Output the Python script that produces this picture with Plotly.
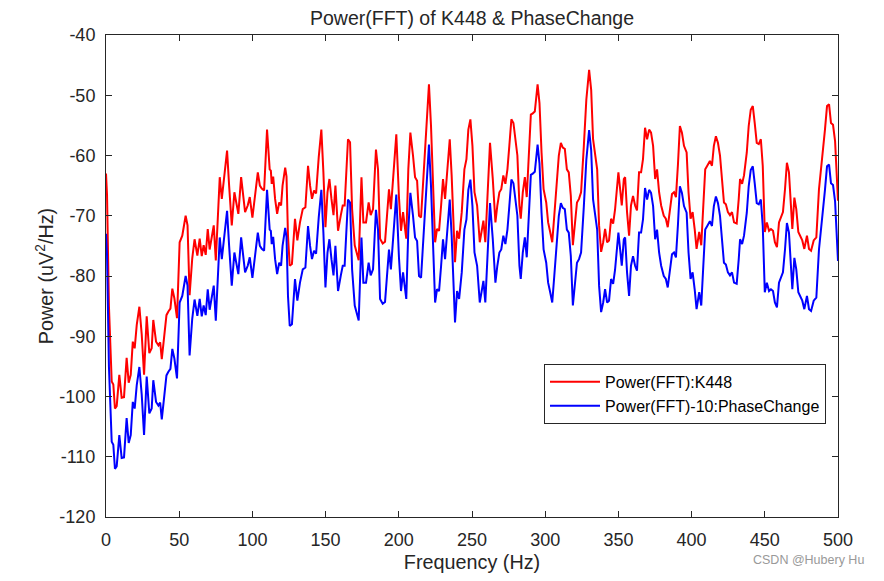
import plotly.graph_objects as go

freq_hz = [0, 0.7, 2.0, 3.0, 3.9, 5.0, 6.1, 7.3, 9.1, 10.7, 12.3, 14.1, 15.5, 16.9, 18.3, 19.6, 21.0, 22.8, 24.4, 26.0,
           27.8, 29.6, 31.2, 32.3, 34.2, 35.8, 37.0, 38.1, 39.4, 41.3, 42.6, 44.0, 45.3, 46.7, 48.5, 50.3, 52.1, 54.4, 55.7, 57.1,
           58.9, 60.5, 62.4, 64.0, 65.4, 66.7, 68.1, 69.5, 70.8, 72.2, 73.6, 75.0, 76.3, 77.7, 79.1, 80.9, 82.7, 84.1, 85.9, 87.7,
           89.1, 90.4, 92.3, 93.6, 95.0, 96.8, 98.2, 100.0, 101.8, 103.7, 105.1, 106.4, 108.0, 109.0, 110.0, 111.8, 112.6, 113.2, 114.2, 115.5,
           116.9, 118.3, 119.6, 120.6, 122.4, 123.3, 124.3, 125.5, 127.0, 129.1, 130.7, 132.5, 134.4, 136.2, 138.0, 139.4, 140.7, 142.1, 143.5, 145.3,
           147.1, 148.5, 149.9, 151.3, 152.6, 154.0, 155.4, 156.7, 158.5, 160.4, 161.7, 163.0, 165.3, 166.7, 168.1, 169.9, 171.3, 172.6, 174.5, 175.8,
           177.6, 179.4, 180.8, 182.4, 184.4, 185.8, 187.2, 189.0, 190.6, 192.0, 193.3, 194.6, 196.5, 198.3, 200.1, 201.5, 202.9, 204.2, 205.1, 206.5,
           207.9, 209.7, 211.1, 212.5, 213.8, 215.2, 216.5, 217.9, 219.3, 220.6, 222.0, 223.4, 224.8, 226.1, 227.5, 228.9, 230.2, 231.6, 233.0, 234.8,
           236.1, 237.5, 238.4, 239.8, 241.2, 243.0, 244.8, 246.2, 247.5, 248.9, 250.3, 251.7, 253.5, 255.3, 256.5, 257.8, 259.1, 260.5, 262.3, 264.2,
           266.0, 267.3, 268.7, 270.0, 271.4, 272.8, 274.2, 275.5, 276.9, 278.3, 279.7, 281.0, 282.4, 283.3, 284.7, 286.1, 287.4, 288.8, 290.2, 291.5,
           292.9, 294.8, 296.1, 297.5, 298.9, 300.7, 302.0, 303.4, 304.8, 306.2, 308.0, 309.3, 310.7, 312.0, 313.4, 314.8, 316.1, 317.5, 318.9, 320.5,
           321.7, 323.1, 324.5, 326.4, 328.1, 330.0, 331.4, 332.7, 334.1, 335.5, 336.8, 338.2, 339.6, 340.9, 342.3, 343.6, 345.0, 346.4, 347.7, 349.1,
           350.0, 351.4, 352.3, 353.7, 354.6, 355.9, 357.3, 358.6, 360.0, 361.4, 362.7, 364.1, 365.5, 366.8, 368.2, 369.6, 371.0, 372.3, 373.7, 375.1,
           376.4, 377.8, 379.2, 381.0, 382.4, 383.7, 385.1, 386.6, 388.0, 389.3, 390.7, 392.0, 393.4, 394.8, 396.6, 397.9, 399.3, 400.7, 402.1, 403.4,
           405.2, 406.6, 408.0, 409.3, 410.7, 412.5, 413.9, 415.2, 416.6, 418.0, 419.4, 420.7, 422.1, 423.4, 424.8, 426.2, 427.6, 429.0, 430.8, 432.2,
           433.1, 434.5, 435.8, 437.7, 439.0, 440.4, 441.8, 443.1, 444.5, 445.9, 447.3, 448.6, 450.0, 451.4, 452.9, 454.2, 455.6, 456.9, 458.3, 459.7,
           461.0, 462.4, 463.8, 465.1, 466.5, 467.9, 468.8, 470.2, 471.5, 472.9, 474.3, 475.6, 477.0, 478.8, 480.2, 481.6, 483.4, 485.2, 487.0, 488.4,
           489.8, 491.1, 492.5, 493.9, 495.2, 496.6, 498.0, 499.3, 500.0]

power_k448 = [-63.0, -66.5, -85.0, -93.5, -97.5, -98.0, -102.0, -101.6, -96.4, -100.2, -100.1, -93.6, -97.7, -96.4, -90.9, -92.0, -88.1, -85.1, -89.7, -96.4,
              -86.7, -92.8, -92.0, -87.3, -90.9, -91.5, -91.0, -93.8, -90.4, -86.5, -85.9, -85.4, -82.1, -83.7, -87.0, -74.4, -73.3, -70.0, -71.6, -83.2,
              -77.1, -73.9, -76.6, -73.8, -76.7, -74.9, -76.5, -72.2, -75.6, -73.8, -71.6, -77.4, -70.0, -63.6, -67.2, -62.8, -59.2, -65.0, -71.6, -66.1,
              -68.3, -69.7, -63.6, -66.1, -69.4, -68.3, -66.9, -70.3, -66.1, -62.8, -65.0, -65.5, -65.8, -60.5, -55.7, -62.3, -62.5, -64.7, -63.5, -67.2,
              -69.7, -67.8, -68.3, -65.0, -62.0, -63.5, -73.3, -78.3, -78.0, -70.5, -74.1, -71.1, -68.9, -68.6, -61.7, -65.0, -67.2, -65.8, -66.3, -60.3,
              -55.7, -62.8, -71.9, -66.1, -63.9, -67.2, -69.9, -65.0, -72.5, -69.9, -68.3, -68.3, -57.3, -57.8, -68.9, -74.9, -76.0, -77.4, -63.6, -71.1,
              -71.1, -67.8, -69.9, -68.9, -59.0, -62.3, -73.8, -74.6, -74.3, -70.0, -65.6, -68.9, -62.0, -56.5, -66.9, -72.5, -69.4, -72.7, -73.8, -62.3,
              -56.2, -60.0, -63.6, -64.2, -70.0, -70.3, -65.0, -61.2, -54.0, -48.2, -55.1, -63.9, -74.4, -72.2, -72.5, -68.3, -63.9, -67.2, -62.3, -57.3,
              -63.3, -73.8, -77.7, -72.5, -73.8, -69.4, -62.3, -60.6, -55.7, -54.0, -58.4, -66.1, -68.3, -74.4, -72.5, -70.8, -74.4, -66.1, -57.9, -63.9,
              -71.1, -68.3, -66.1, -65.6, -63.3, -64.7, -62.3, -58.4, -54.0, -54.6, -57.3, -60.0, -68.3, -70.5, -66.1, -63.6, -66.9, -60.0, -53.2, -53.0,
              -52.7, -48.2, -51.3, -59.5, -65.6, -67.8, -71.1, -72.7, -74.4, -70.0, -65.0, -60.0, -57.9, -58.7, -58.9, -62.3, -62.8, -66.7, -74.9, -71.0,
              -67.8, -67.2, -66.1, -58.4, -50.7, -45.8, -49.1, -57.3, -60.0, -62.3, -71.6, -76.0, -74.4, -72.2, -74.4, -74.1, -70.5, -71.3, -69.0, -65.6,
              -62.8, -66.1, -68.3, -63.9, -63.6, -69.4, -73.3, -68.3, -66.7, -68.3, -69.1, -62.8, -62.8, -60.6, -55.4, -57.3, -55.7, -56.2, -58.4, -63.9,
              -62.3, -66.1, -68.3, -70.0, -70.5, -71.9, -69.4, -66.4, -66.1, -66.9, -61.4, -55.1, -56.2, -58.4, -59.5, -66.1, -70.5, -69.4, -72.2, -75.5,
              -72.7, -74.9, -68.3, -62.3, -61.7, -60.9, -61.7, -58.4, -56.8, -57.9, -60.0, -63.3, -67.8, -68.1, -69.4, -69.9, -69.4, -71.1, -71.3, -67.2,
              -63.9, -64.7, -63.3, -59.5, -55.1, -52.4, -51.8, -54.6, -57.9, -58.1, -57.3, -61.7, -72.7, -71.1, -72.5, -72.2, -72.5, -74.4, -75.2, -71.1,
              -70.3, -69.4, -65.6, -61.2, -62.8, -70.0, -72.2, -67.0, -68.9, -72.7, -73.6, -74.1, -75.5, -73.3, -75.5, -75.8, -74.1, -73.6, -65.6, -62.3,
              -59.5, -55.7, -51.8, -51.5, -54.6, -54.9, -57.6, -63.6, -67.5]

power_phasechange_minus10 = [-73.0, -76.5, -95.0, -103.5, -107.5, -108.0, -112.0, -111.6, -106.4, -110.2, -110.1, -103.6, -107.7, -106.4, -100.9, -102.0, -98.1, -95.1, -99.7, -106.4,
              -96.7, -102.8, -102.0, -97.3, -100.9, -101.5, -101.0, -103.8, -100.4, -96.5, -95.9, -95.4, -92.1, -93.7, -97.0, -84.4, -83.3, -80.0, -81.6, -93.2,
              -87.1, -83.9, -86.6, -83.8, -86.7, -84.9, -86.5, -82.2, -85.6, -83.8, -81.6, -87.4, -80.0, -73.6, -77.2, -72.8, -69.2, -75.0, -81.6, -76.1,
              -78.3, -79.7, -73.6, -76.1, -79.4, -78.3, -76.9, -80.3, -76.1, -72.8, -75.0, -75.5, -75.8, -70.5, -65.7, -72.3, -72.5, -74.7, -73.5, -77.2,
              -79.7, -77.8, -78.3, -75.0, -72.0, -73.5, -83.3, -88.3, -88.0, -80.5, -84.1, -81.1, -78.9, -78.6, -71.7, -75.0, -77.2, -75.8, -76.3, -70.3,
              -65.7, -72.8, -81.9, -76.1, -73.9, -77.2, -79.9, -75.0, -82.5, -79.9, -78.3, -78.3, -67.3, -67.8, -78.9, -84.9, -86.0, -87.4, -73.6, -81.1,
              -81.1, -77.8, -79.9, -78.9, -69.0, -72.3, -83.8, -84.6, -84.3, -80.0, -75.6, -78.9, -72.0, -66.5, -76.9, -82.5, -79.4, -82.7, -83.8, -72.3,
              -66.2, -70.0, -73.6, -74.2, -80.0, -80.3, -75.0, -71.2, -64.0, -58.2, -65.1, -73.9, -84.4, -82.2, -82.5, -78.3, -73.9, -77.2, -72.3, -67.3,
              -73.3, -83.8, -87.7, -82.5, -83.8, -79.4, -72.3, -70.6, -65.7, -64.0, -68.4, -76.1, -78.3, -84.4, -82.5, -80.8, -84.4, -76.1, -67.9, -73.9,
              -81.1, -78.3, -76.1, -75.6, -73.3, -74.7, -72.3, -68.4, -64.0, -64.6, -67.3, -70.0, -78.3, -80.5, -76.1, -73.6, -76.9, -70.0, -63.2, -63.0,
              -62.7, -58.2, -61.3, -69.5, -75.6, -77.8, -81.1, -82.7, -84.4, -80.0, -75.0, -70.0, -67.9, -68.7, -68.9, -72.3, -72.8, -76.7, -84.9, -81.0,
              -77.8, -77.2, -76.1, -68.4, -60.7, -55.8, -59.1, -67.3, -70.0, -72.3, -81.6, -86.0, -84.4, -82.2, -84.4, -84.1, -80.5, -81.3, -79.0, -75.6,
              -72.8, -76.1, -78.3, -73.9, -73.6, -79.4, -83.3, -78.3, -76.7, -78.3, -79.1, -72.8, -72.8, -70.6, -65.4, -67.3, -65.7, -66.2, -68.4, -73.9,
              -72.3, -76.1, -78.3, -80.0, -80.5, -81.9, -79.4, -76.4, -76.1, -76.9, -71.4, -65.1, -66.2, -68.4, -69.5, -76.1, -80.5, -79.4, -82.2, -85.5,
              -82.7, -84.9, -78.3, -72.3, -71.7, -70.9, -71.7, -68.4, -66.8, -67.9, -70.0, -73.3, -77.8, -78.1, -79.4, -79.9, -79.4, -81.1, -81.3, -77.2,
              -73.9, -74.7, -73.3, -69.5, -65.1, -62.4, -61.8, -64.6, -67.9, -68.1, -67.3, -71.7, -82.7, -81.1, -82.5, -82.2, -82.5, -84.4, -85.2, -81.1,
              -80.3, -79.4, -75.6, -71.2, -72.8, -80.0, -82.2, -77.0, -78.9, -82.7, -83.6, -84.1, -85.5, -83.3, -85.5, -85.8, -84.1, -83.6, -75.6, -72.3,
              -69.5, -65.7, -61.8, -61.5, -64.6, -64.9, -67.6, -73.6, -77.5]

x_ticks = [0, 50, 100, 150, 200, 250, 300, 350, 400, 450, 500]
y_ticks = [-120, -110, -100, -90, -80, -70, -60, -50, -40]
y_tick_labels = ["-120", "-110", "-100", "-90", "-80", "-70", "-60", "-50", "-40"]

axis_color = "#262626"
font_family = "Liberation Sans, Arial, Helvetica, sans-serif"

fig = go.Figure()
fig.add_trace(go.Scatter(x=freq_hz, y=power_k448, mode="lines", name="Power(FFT):K448",
                         line=dict(color="#FF0000", width=2)))
fig.add_trace(go.Scatter(x=freq_hz, y=power_phasechange_minus10, mode="lines", name="Power(FFT)-10:PhaseChange",
                         line=dict(color="#0000FF", width=2)))

axis_common = dict(showline=True, linecolor=axis_color, linewidth=1, mirror="allticks",
                   ticks="inside", ticklen=6, tickcolor=axis_color, tickwidth=1,
                   showgrid=False, zeroline=False,
                   tickfont=dict(size=18, color=axis_color, family=font_family))

fig.update_layout(
    width=884, height=581,
    margin=dict(l=106, r=46, t=35, b=61),
    plot_bgcolor="white", paper_bgcolor="white",
    font=dict(family=font_family, color=axis_color),
    title=dict(text="Power(FFT) of K448 & PhaseChange", x=0.5, xref="paper", xanchor="center",
               y=1 - 18 / 581, yref="container", yanchor="middle",
               font=dict(size=19.5, color=axis_color, family=font_family)),
    xaxis=dict(range=[0, 500], tickvals=x_ticks, ticklabelstandoff=6,
               title=dict(text="Frequency (Hz)", font=dict(size=19.8, color=axis_color), standoff=6),
               **axis_common),
    yaxis=dict(range=[-120, -40], tickvals=y_ticks, ticktext=y_tick_labels, ticklabelstandoff=6,
               title=dict(text="Power (uV<sup>2</sup>/Hz)", font=dict(size=19.8, color=axis_color), standoff=0),
               **axis_common),
    legend=dict(x=(544 - 106) / 732, y=(520 - 366) / 485, xanchor="left", yanchor="top",
                bordercolor=axis_color, borderwidth=1, bgcolor="white",
                font=dict(size=16, color="#000000", family=font_family), itemwidth=50,
                tracegroupgap=0),
    showlegend=True,
)

fig.add_annotation(text="CSDN @Hubery Hu", xref="paper", yref="paper",
                   x=(866 - 106) / 732, y=(520 - 563) / 485, xanchor="right", yanchor="middle",
                   showarrow=False, font=dict(size=12.5, color="#999999", family=font_family))

fig.write_html("out.html")
